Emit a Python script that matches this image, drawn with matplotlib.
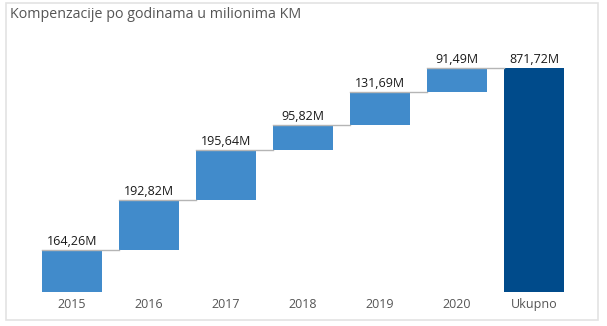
import matplotlib
matplotlib.use("Agg")
import matplotlib.pyplot as plt
from matplotlib.patches import Rectangle
import numpy as np

categories = ["2015", "2016", "2017", "2018", "2019", "2020", "Ukupno"]
values = [164.26, 192.82, 195.64, 95.82, 131.69, 91.49]
labels = ["164,26M", "192,82M", "195,64M", "95,82M", "131,69M", "91,49M", "871,72M"]
title = "Kompenzacije po godinama u milionima KM"

W, H = 607, 326
fig = plt.figure(figsize=(W / 100, H / 100), dpi=100)
plt.rcParams['font.family'] = ['Open Sans', 'DejaVu Sans']

# outer frame
fig.patches.append(Rectangle((6 / W, 1 - 320 / H), (598 - 6) / W, (320 - 3) / H,
                             transform=fig.transFigure, fill=False,
                             edgecolor="#E3E3E3", linewidth=1.2))

fig.text(10 / W, 1 - 15 / H, title, fontsize=10.3, color="#555555",
         va="center", ha="left")

ax = fig.add_axes([33.5 / W, 1 - 292 / H, 539 / W, 244 / H])
total = sum(values)
cum = np.concatenate([[0], np.cumsum(values)])
bw = 0.78
blue = "#418BCB"
dark = "#004B8B"
for i, v in enumerate(values):
    ax.bar(i, v, bottom=cum[i], width=bw, color=blue, zorder=2)
    ax.text(i, cum[i + 1] + 8, labels[i], ha="center", va="bottom",
            fontsize=9, color="#1A1A1A")
n = len(values)
ax.bar(n, total, width=bw, color=dark, zorder=2)
ax.text(n, total + 8, labels[-1], ha="center", va="bottom", fontsize=9, color="#1A1A1A")

# connectors
for i in range(n):
    ax.plot([i - bw / 2, i + 1 - bw / 2], [cum[i + 1], cum[i + 1]],
            color="#B5B5B5", linewidth=1, zorder=3)

ax.set_xlim(-0.5, n + 0.5)
ax.set_ylim(0, 950)
ax.set_xticks(range(n + 1))
ax.set_xticklabels(categories, fontsize=9, color="#555555")
ax.tick_params(axis="x", length=0, pad=4)
ax.set_yticks([])
for s in ax.spines.values():
    s.set_visible(False)

fig.savefig("out.png", dpi=100)
